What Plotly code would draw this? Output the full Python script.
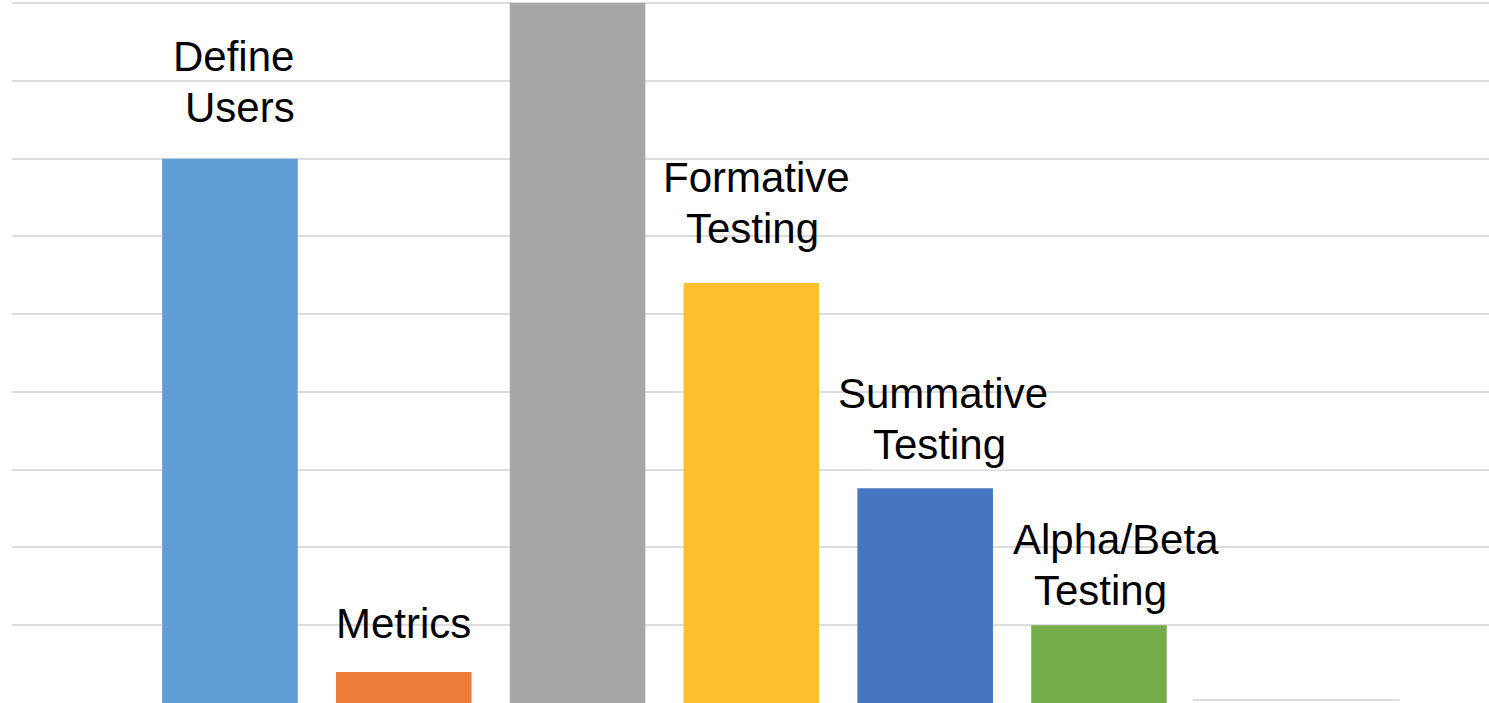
import plotly.graph_objects as go

# Data
categories = ["Define Users", "Metrics", "Design", "Formative Testing",
              "Summative Testing", "Alpha/Beta Testing"]
label_lines = [["Define", "Users"], ["Metrics"], [], ["Formative", "Testing"],
               ["Summative", "Testing"], ["Alpha/Beta", "Testing"]]
values = [7.0, 0.4, 9.0, 5.4, 2.76, 1.0]
colors = ["#5E9CD3", "#ED7D3B", "#A6A6A6", "#FCBF2E", "#4775C1", "#75AD4B"]

# label placement offsets (pixels): per-line x shifts, block centre above bar top
label_dx = [[4, 10], [0], [], [5, 1], [18, 14], [17, 2]]
label_dy = [77, 48, 0, 80, 69, 60]
line_gap = 51
label_bg = [[None, None], [None], [], [None, None], [None, "white"], [None, None]]

x_idx = list(range(len(categories)))

fig = go.Figure()
fig.add_trace(go.Bar(
    x=x_idx, y=values, marker=dict(color=colors, line=dict(width=0)),
    width=0.78, hoverinfo="skip",
))

for i, lines in enumerate(label_lines):
    n = len(lines)
    for k, t in enumerate(lines):
        off = label_dy[i] + ((n - 1) / 2 - k) * line_gap
        kw = dict(bgcolor=label_bg[i][k]) if label_bg[i][k] else {}
        fig.add_annotation(
            x=x_idx[i], y=values[i], xref="x", yref="y", text=t, showarrow=False,
            xshift=label_dx[i][k], yshift=off, yanchor="middle",
            xanchor="center", align="center",
            font=dict(family="Liberation Sans, Arial, sans-serif", size=42, color="black"),
            **kw,
        )

# faint baseline fragment at right
fig.add_shape(type="line", xref="x", yref="y", x0=5.54, x1=6.73, y0=0.04, y1=0.04,
              line=dict(color="#DDDDDD", width=2), layer="below")

fig.update_layout(
    width=1489, height=703,
    margin=dict(l=12, r=0, t=0, b=0),
    paper_bgcolor="white", plot_bgcolor="white",
    showlegend=False, bargap=0.22,
)
fig.update_xaxes(range=[-1.254, 7.244], showticklabels=False, showgrid=False,
                 zeroline=False, showline=False, ticks="")
fig.update_yaxes(range=[0, 9.04], dtick=1, showticklabels=False, showgrid=True,
                 gridcolor="#DDDDDD", gridwidth=2, zeroline=False, showline=False,
                 ticks="")

fig.write_html("out.html", config={"displayModeBar": False},
               post_script="document.body.style.margin='0';document.body.style.overflow='hidden';")
